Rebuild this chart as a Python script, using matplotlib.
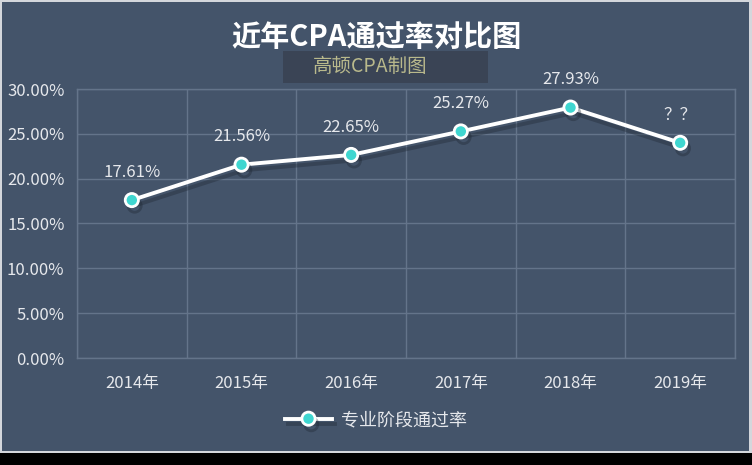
import matplotlib
matplotlib.use("Agg")
import matplotlib.pyplot as plt
import matplotlib.patheffects as pe
from matplotlib.patches import Rectangle
from matplotlib.ticker import FixedLocator, PercentFormatter

plt.rcParams['font.family'] = ['Noto Sans CJK SC', 'DejaVu Sans']

years = ['2014年', '2015年', '2016年', '2017年', '2018年', '2019年']
rates = [17.61, 21.56, 22.65, 25.27, 27.93, 24.0]
labels = ['17.61%', '21.56%', '22.65%', '25.27%', '27.93%', '？？']
yticks = [0, 5, 10, 15, 20, 25, 30]
title = '近年CPA通过率对比图'
watermark = '高顿CPA制图'
series_name = '专业阶段通过率'

BG = '#44546A'
GRID = '#64748a'
TXT = '#e6e8ec'

W, H = 752, 465
fig = plt.figure(figsize=(W / 100, H / 100), dpi=100, facecolor='black')
fig.patches.append(Rectangle((0, 12 / H), 1, 1 - 12 / H, transform=fig.transFigure,
                             facecolor='#d4d7dc', edgecolor='none', zorder=-3))
fig.patches.append(Rectangle((2 / W, 14 / H), 1 - 5 / W, 1 - 16 / H, transform=fig.transFigure,
                             facecolor=BG, edgecolor='none', zorder=-2))

ax = fig.add_axes([77 / W, (H - 358) / H, (735 - 77) / W, (358 - 89) / H])
ax.set_facecolor(BG)
x = list(range(len(years)))
line, = ax.plot(x, rates, color='white', lw=2.8, marker='o', markersize=9.5,
                markerfacecolor='#3fd6d0', markeredgecolor='white', markeredgewidth=2,
                label=series_name, zorder=5,
                path_effects=[pe.SimpleLineShadow(offset=(2, -4), shadow_color='#1c2430', alpha=0.35),
                              pe.Normal()])
for xi, yi, lab in zip(x, rates, labels):
    ax.annotate(lab, (xi, yi), xytext=(0, 20), textcoords='offset points',
                ha='center', va='center', color=TXT, fontsize=12)

ax.set_xlim(-0.5, len(years) - 0.5)
ax.set_ylim(0, 30)
ax.yaxis.set_major_locator(FixedLocator(yticks))
ax.yaxis.set_major_formatter(PercentFormatter(decimals=2))
ax.set_xticks(x)
ax.set_xticklabels(years)
ax.set_xticks([i - 0.5 for i in range(len(years) + 1)], minor=True)
ax.grid(True, axis='y', which='major', color=GRID, lw=1)
ax.grid(True, axis='x', which='minor', color=GRID, lw=1)
ax.tick_params(which='both', length=0, colors=TXT, labelsize=12)
ax.tick_params(axis='x', pad=12)
ax.tick_params(axis='y', pad=9)
for s in ax.spines.values():
    s.set_color(GRID)
    s.set_linewidth(1)
ax.set_axisbelow(True)

fig.text(0.5, (H - 37) / H, title, ha='center', va='center', color='white',
         fontsize=21, fontweight='bold')
fig.patches.append(Rectangle((283 / W, (H - 83) / H), 205 / W, 32 / H, transform=fig.transFigure,
                             facecolor='#3a4455', edgecolor='none', zorder=1))
fig.text(370 / W, (H - 67) / H, watermark, ha='center', va='center', color='#b9b98c',
         fontsize=14, zorder=2)

fig.legend(handles=[line], loc='center', bbox_to_anchor=(0.5, (H - 420) / H), frameon=False,
           labelcolor=TXT, fontsize=13, handlelength=2.6, handletextpad=0.5)

fig.savefig('out.png', dpi=100, facecolor=fig.get_facecolor())
